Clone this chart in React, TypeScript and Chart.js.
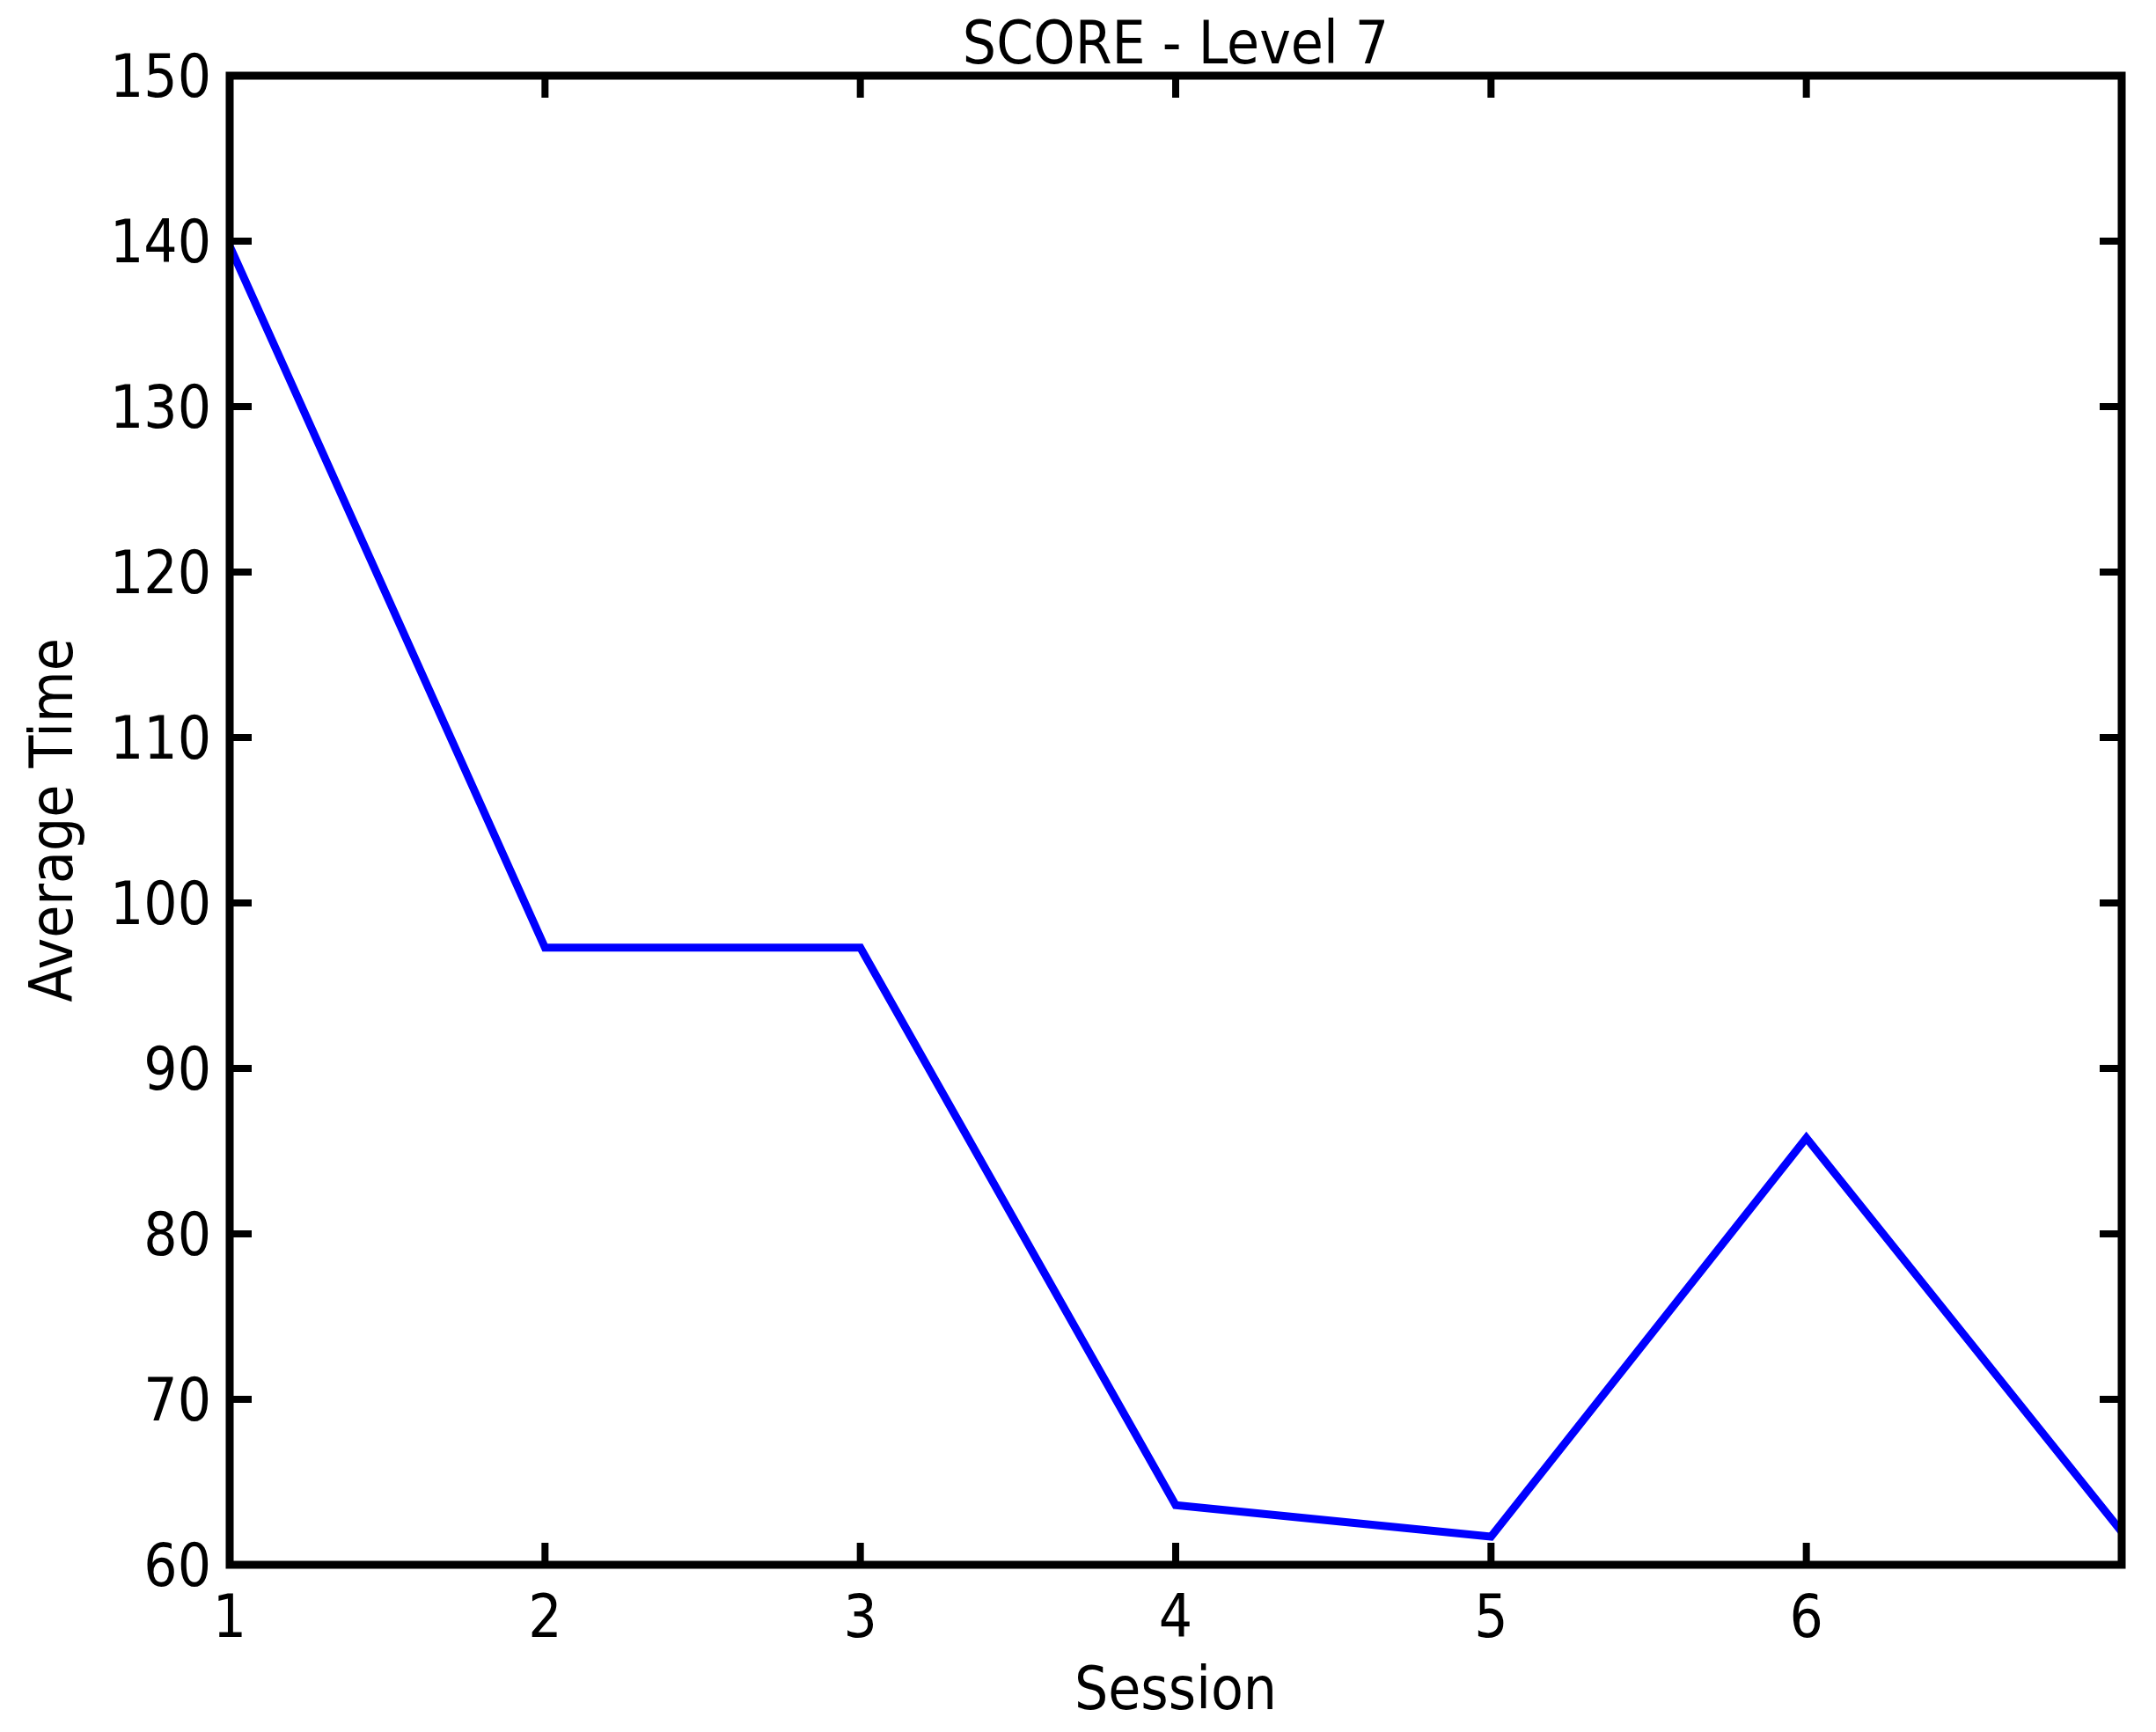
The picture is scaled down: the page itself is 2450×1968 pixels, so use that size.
import React, { useEffect, useRef } from "react";
import { Chart, registerables } from "chart.js";

Chart.register(...registerables);

const sessions = [1, 2, 3, 4, 5, 6, 7];
const averageTime = [139.7, 97.3, 97.3, 63.6, 61.7, 85.8, 62.0];
const xTickMin = 1;
const xTickMax = 7;
const yTickMin = 60;
const yTickMax = 150;
const titleText = "SCORE - Level 7";
const xTitle = "Session";
const yTitle = "Average Time";

const FONT = "'DejaVu Sans Condensed', 'DejaVu Sans', sans-serif";
const FS = 67;

const frameTicks = {
  id: "frameTicks",
  afterDraw(chart: any) {
    const { ctx, chartArea } = chart;
    const { left, right, top, bottom } = chartArea;
    const xs = chart.scales.x;
    const ys = chart.scales.y;
    const len = 25;
    ctx.save();
    ctx.strokeStyle = "#000";
    ctx.lineWidth = 8;
    ctx.lineCap = "butt";
    ctx.beginPath();
    xs.ticks.forEach((t: any) => {
      const px = xs.getPixelForValue(t.value);
      ctx.moveTo(px, bottom);
      ctx.lineTo(px, bottom - len);
      ctx.moveTo(px, top);
      ctx.lineTo(px, top + len);
    });
    ys.ticks.forEach((t: any) => {
      const py = ys.getPixelForValue(t.value);
      ctx.moveTo(left, py);
      ctx.lineTo(left + len, py);
      ctx.moveTo(right, py);
      ctx.lineTo(right - len, py);
    });
    ctx.stroke();
    ctx.lineWidth = 9;
    ctx.lineJoin = "miter";
    ctx.strokeRect(left, top, right - left, bottom - top);
    ctx.restore();
  },
};

export default function App() {
  const ref = useRef<HTMLCanvasElement | null>(null);
  useEffect(() => {
    document.body.style.margin = "0";
    const canvas = ref.current;
    if (!canvas) return;
    const chart = new Chart(canvas, {
      type: "line",
      data: {
        datasets: [
          {
            data: sessions.map((s, i) => ({ x: s, y: averageTime[i] })),
            borderColor: "#0000FF",
            borderWidth: 9,
            pointRadius: 0,
            tension: 0,
            fill: false,
          },
        ],
      },
      options: {
        responsive: false,
        animation: false,
        devicePixelRatio: 1,
        layout: { padding: { left: 0, right: 39, top: 0, bottom: 0 } },
        plugins: {
          legend: { display: false },
          tooltip: { enabled: false },
          title: {
            display: true,
            text: titleText,
            fullSize: false,
            color: "#000",
            font: { family: FONT, size: FS, weight: "normal" },
            padding: { top: 14, bottom: -8.4 },
          },
        },
        scales: {
          x: {
            type: "linear",
            min: xTickMin,
            max: xTickMax,
            grid: { display: false },
            border: { display: false },
            ticks: {
              stepSize: 1,
              color: "#000",
              padding: 16,
              maxRotation: 0,
              font: { family: FONT, size: FS },
              callback: (v: any) => (v === xTickMax ? "" : String(v)),
            },
            title: {
              display: true,
              text: xTitle,
              color: "#000",
              font: { family: FONT, size: FS },
              padding: { top: 0, bottom: 3 },
            },
            afterFit: (s: any) => {
              s.height = 190;
            },
          },
          y: {
            type: "linear",
            min: yTickMin,
            max: yTickMax,
            grid: { display: false },
            border: { display: false },
            ticks: {
              stepSize: 10,
              color: "#000",
              padding: 13,
              labelOffset: 7,
              font: { family: FONT, size: FS },
            },
            title: {
              display: true,
              text: yTitle,
              color: "#000",
              font: { family: FONT, size: FS },
              padding: { top: 24, bottom: 0 },
            },
            afterFit: (s: any) => {
              s.width = 261;
            },
          },
        },
      },
      plugins: [frameTicks],
    });
    return () => chart.destroy();
  }, []);
  return (
    <div style={{ width: 2450, height: 1968, background: "#fff" }}>
      <canvas ref={ref} width={2450} height={1968} style={{ display: "block" }} />
    </div>
  );
}
